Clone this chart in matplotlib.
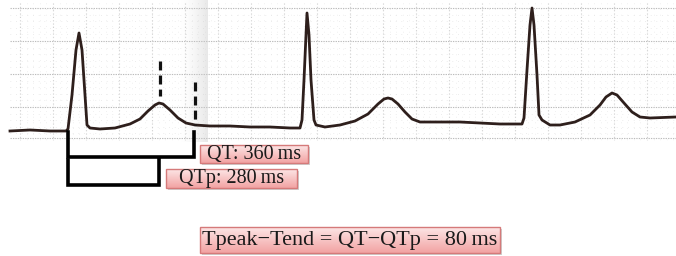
import numpy as np
import matplotlib
matplotlib.use("Agg")
import matplotlib.pyplot as plt
from matplotlib.patches import Rectangle

# ---- data (pixel-space coordinates of the traced ECG strip) ----
ecg_x = [10, 30, 50, 66, 68, 72, 76, 79, 82, 85, 87, 90, 100, 115, 130, 140, 148, 155, 159,
         163, 170, 178, 186, 195, 210, 230, 250, 270, 290, 300,
         302, 304, 306, 307, 309, 311, 314, 316, 325, 340, 355, 368, 378, 384, 388, 392, 398,
         405, 412, 420, 440, 460, 480, 500, 522,
         524, 527, 530, 532, 534, 537, 539, 542, 550, 560, 575, 590, 600, 606, 612, 617, 624,
         632, 640, 650, 676]
ecg_y = [131, 130, 131, 131, 129, 95, 50, 33, 50, 95, 125, 128, 129, 128, 124, 119, 111, 105, 103,
         104, 110, 118, 123, 125, 126, 126, 127, 127, 128, 128,
         120, 80, 35, 13, 35, 80, 120, 125, 127, 125, 121, 114, 104, 99, 98, 99, 104,
         112, 119, 122, 122, 122, 123, 124, 124,
         118, 70, 25, 8, 25, 75, 115, 120, 125, 125, 122, 115, 105, 97, 93, 95, 103,
         112, 117, 118, 117]

tpeak_x, tpeak_y0, tpeak_y1 = 160, 61, 96
tend_x, tend_y0, tend_y1 = 195, 82, 125
q_onset_x = 68
qt_bracket_y = 157
qtp_bracket_y = 185

labels = ["QT: 360\u2009ms", "QTp: 280\u2009ms", "Tpeak\u2212Tend = QT\u2212QTp = 80\u2009ms"]
label_boxes = [(200, 145, 108, 18), (166, 169, 131, 19), (200, 227, 300, 26)]

# ---- figure ----
fig = plt.figure(figsize=(6.76, 2.56), dpi=100)
ax = fig.add_axes([0, 0, 1, 1])
ax.set_xlim(0, 676)
ax.set_ylim(256, 0)
ax.axis("off")

# ECG paper grid
gx0, gx1, gy0, gy1 = 10, 676, 3, 140
major_h = [8, 41, 74, 107, 138]
for y in major_h:
    ax.plot([gx0, gx1], [y, y], color="#bcbcbc", lw=0.8, ls=(0, (1.2, 1.0)), zorder=1)
for y in np.arange(8, 139, 6.6):
    if min(abs(y - m) for m in major_h) > 2:
        ax.plot([gx0, gx1], [y, y], color="#e0e0e0", lw=0.6, ls=(0, (0.8, 6)), zorder=1)
for x in np.arange(20, 676, 33):
    ax.plot([x, x], [gy0, gy1], color="#cfcfcf", lw=0.8, ls=(0, (1.0, 2.0)), zorder=1)
for x in np.arange(20, 676, 6.6):
    ax.plot([x, x], [gy0, gy1], color="#e6e6e6", lw=0.6, ls=(0, (0.8, 6)), zorder=1)

# paper fold shading
grad = np.linspace(0, 1, 60) ** 1.5
band = np.zeros((1, 60, 4))
band[..., 0:3] = 0.80
band[..., 3] = grad * 0.45
ax.imshow(band, extent=(180, 208, 142, 0), aspect="auto", zorder=1.5, interpolation="bilinear")

# ECG trace
ax.plot(ecg_x, ecg_y, color="#2e1f1c", lw=2.0, solid_joinstyle="round", zorder=3)

# dashed markers for T peak / T end
ax.plot([tpeak_x, tpeak_x], [tpeak_y0, tpeak_y1], color="#111111", lw=2.3, ls=(0, (2.8, 1.6)), zorder=4)
ax.plot([tend_x, tend_x], [tend_y0, tend_y1], color="#111111", lw=2.3, ls=(0, (2.8, 1.6)), zorder=4)

# brackets
ax.plot([q_onset_x, q_onset_x, tend_x - 1, tend_x - 1], [132, qt_bracket_y, qt_bracket_y, 132],
        color="black", lw=2.6, solid_joinstyle="miter", zorder=4)
ax.plot([q_onset_x, q_onset_x, tpeak_x - 1, tpeak_x - 1], [160, qtp_bracket_y, qtp_bracket_y, 159],
        color="black", lw=2.6, solid_joinstyle="miter", zorder=4)

# label boxes with pink gradient
top = np.array([0.99, 0.90, 0.90])
bot = np.array([0.95, 0.64, 0.64])
t = np.linspace(0, 1, 40)[:, None]
grad_img = (top * (1 - t) + bot * t)[:, None, :].repeat(2, axis=1)
for (bx, by, bw, bh), txt in zip(label_boxes, labels):
    ax.add_patch(Rectangle((bx + 2, by + 2), bw, bh, facecolor="#d0d0d0", edgecolor="none", zorder=5))
    ax.imshow(grad_img, extent=(bx, bx + bw, by + bh, by), aspect="auto", zorder=6, interpolation="bilinear")
    ax.add_patch(Rectangle((bx, by), bw, bh, facecolor="none", edgecolor="#d57a7a", lw=1.0, zorder=7))
    fs = 14.5 if bh < 22 else 16
    ax.text(bx + bw / 2, by + bh / 2 + 0.5, txt, ha="center", va="center",
            family=["Liberation Serif", "DejaVu Serif"], fontsize=fs, color="#1a1a1a", zorder=8)

ax.set_xlim(0, 676)
ax.set_ylim(256, 0)
fig.savefig("out.png", dpi=100)
